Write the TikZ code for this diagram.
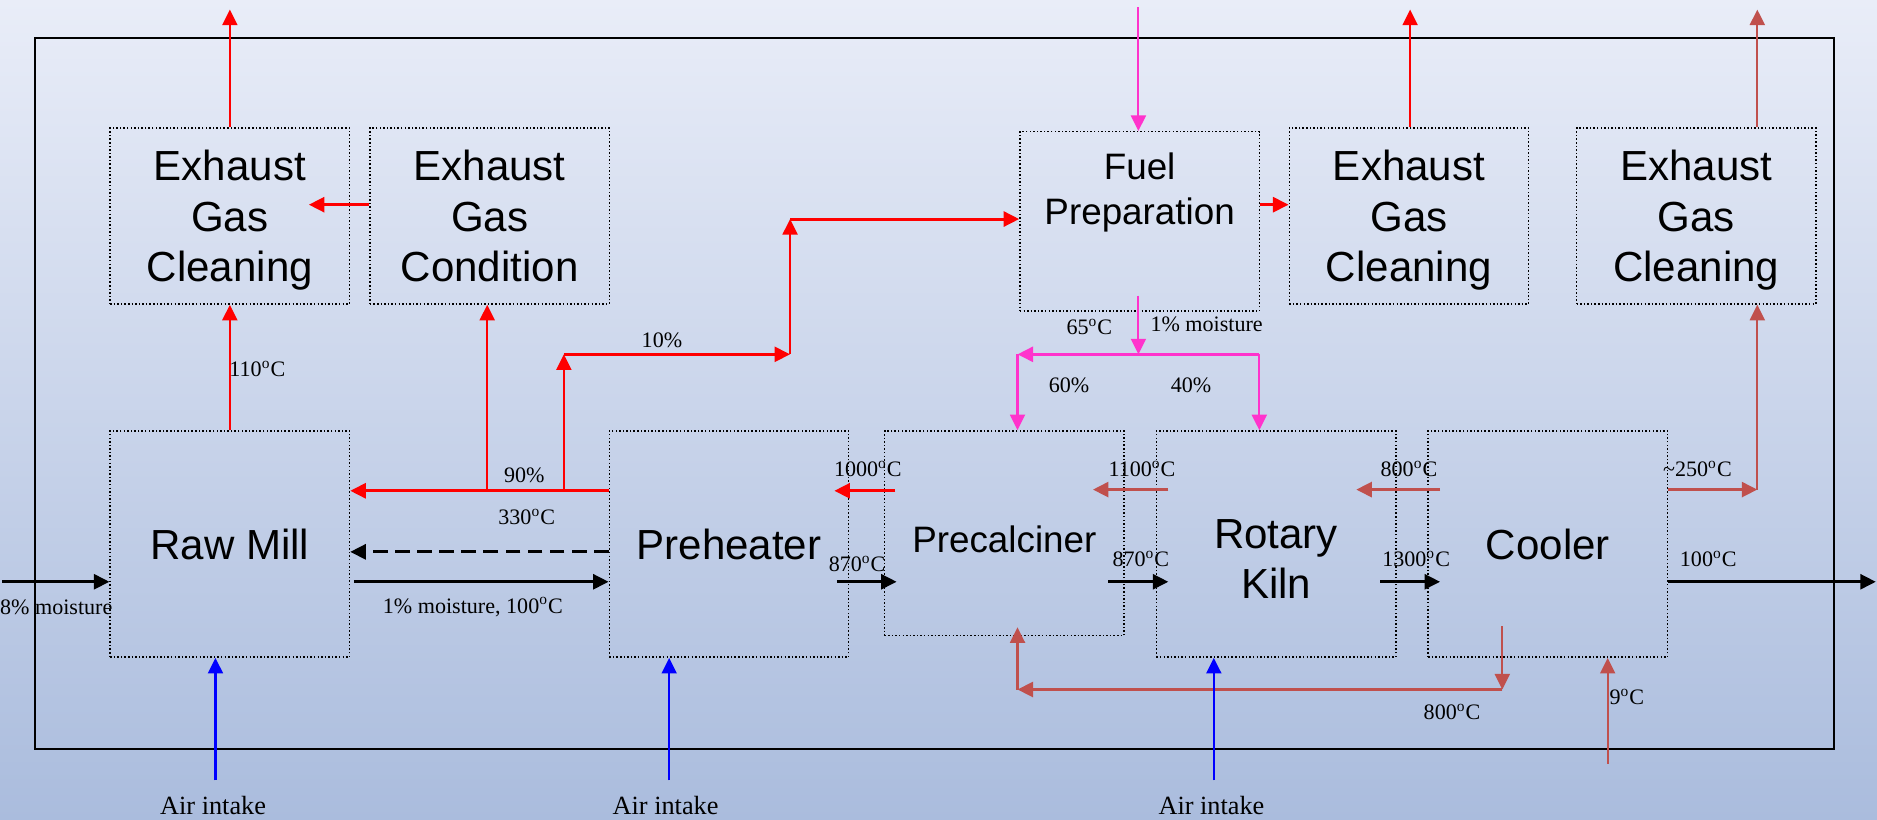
\documentclass[tikz,border=0pt]{standalone}
\usepackage{fontspec}
\setmainfont{Liberation Serif}
\newfontfamily\boxfont{Liberation Sans}
\usetikzlibrary{positioning, arrows.meta, calc}
\definecolor{gasRed}{RGB}{255, 0, 0}
\definecolor{hotAir}{RGB}{192, 80, 77}
\definecolor{fuelPink}{RGB}{255, 51, 204}
\definecolor{airBlue}{RGB}{0, 0, 255}
\definecolor{bgTop}{RGB}{233, 237, 248}
\definecolor{bgBot}{RGB}{170, 188, 221}
\newcommand{\dgC}{\textsuperscript{o}C}

\begin{document}
\begin{tikzpicture}[x=0.02cm, y=-0.02cm,
          unit/.style={draw, densely dotted, line width=0.7pt, minimum width=4cm,
                     minimum height=2.94cm, inner sep=0pt, align=center, text depth=0pt,
                     font=\boxfont\fontsize{20}{24}\selectfont},
          tall/.style={unit, minimum height=3.78cm},
          lbl/.style={font=\fontsize{10.5}{12}\selectfont, inner sep=1pt},
          airlbl/.style={font=\fontsize{12.5}{14}\selectfont, inner sep=1pt},
          arr/.style={-{Triangle[length=0.26cm, width=0.25cm]}, line width=1.4pt},
          rise/.style={arr, line width=1pt}]
        \shade[top color=bgTop, bottom color=bgBot] (0,0) rectangle (1568,685);
        \useasboundingbox (0,0) rectangle (1568,685);
        \draw[line width=0.9pt] (29,32) rectangle (1532,626);

        \node[unit] (egcA) at (192,180.5) {Exhaust\\Gas\\Cleaning};
        \node[unit] (cond) at (409,180.5) {Exhaust\\Gas\\Condition};
        \node[unit, minimum height=3cm] (fuel) at (952,185) {};
        \node[font=\boxfont\fontsize{17.5}{21.6}\selectfont, align=center] (fueltxt)
             at (952,161) {Fuel\\Preparation};
        \node[unit] (egcB) at (1177,180.5) {Exhaust\\Gas\\Cleaning};
        \node[unit] (egcC) at (1417,180.5) {Exhaust\\Gas\\Cleaning};

        \node[tall] (raw)  at (192,454.5)  {Raw Mill};
        \node[tall] (pre)  at (609,454.5)  {Preheater};
        \node[unit, minimum height=3.42cm, font=\boxfont\fontsize{17.5}{21}\selectfont]
             (calc) at (839,445.5) {\raisebox{-0.2cm}{Precalciner}};
        \node[tall] (kiln) at (1066,454.5) {};
        \node[font=\boxfont\fontsize{20}{24}\selectfont, align=center] (kilntxt)
             at (1066,467) {Rotary\\Kiln};
        \node[tall] (cool) at (1293,454.5) {Cooler};

        \coordinate (outA) at (192,8);
        \coordinate (outB) at (1178,8);
        \coordinate (ventC) at (1468,409);
        \coordinate (outC) at (1468,8);
        \coordinate (condIn) at (258,171);
        \coordinate (s90) at (407,410);
        \coordinate (s10) at (471,410);
        \coordinate (k1) at (471,296);
        \coordinate (k2) at (660,296);
        \coordinate (k3) at (660,183);
        \coordinate (fgo) at (1052,171);
        \coordinate (coalIn) at (951,6);
        \coordinate (fuelOut) at (951,247);
        \coordinate (fsplit) at (951,296);
        \coordinate (fL) at (850,296);
        \coordinate (fR) at (1052,296);
        \coordinate (retA) at (1255,523);
        \coordinate (retB) at (1255,576);
        \coordinate (retC) at (850,576);
        \coordinate (retD) at (850,524);
        \coordinate (feedIn) at (2,486);
        \coordinate (clkOut) at (1567,486);
        \coordinate (cairIn) at (1343,638);
        \coordinate (airA) at (180,652);
        \coordinate (airB) at (559,652);
        \coordinate (airC) at (1014,652);

        \draw[rise, gasRed] (egcA.north) -- (outA);
        \draw[arr, gasRed] (cond.west |- condIn) -- (condIn);
        \draw[rise, gasRed] (raw.north) -- (egcA.south);
        \draw[arr, gasRed] (pre.west |- s90) -- (raw.east |- s90);
        \draw[rise, gasRed] (s90) -- (s90 |- cond.south);
        \draw[rise, gasRed] (s10) -- (k1);
        \draw[arr, gasRed] (k1) -- (k2);
        \draw[rise, gasRed] (k2) -- (k3);
        \draw[arr, gasRed] (k3) -- (k3 -| fuel.west);
        \draw[arr, gasRed] (fuel.east |- fgo) -- (fgo -| egcB.west);
        \draw[rise, gasRed] (egcB.north -| outB) -- (outB);
        \draw[arr, gasRed] (748,410) -- (697,410);

        \draw[arr, hotAir] (976,409) -- (913,409);
        \draw[arr, hotAir] (1203,409) -- (1133,409);
        \draw[arr, hotAir] (cool.east |- ventC) -- (ventC);
        \draw[rise, hotAir] (ventC) -- (ventC |- egcC.south);
        \draw[rise, hotAir] (egcC.north -| outC) -- (outC);
        \draw[rise, hotAir] (retA) -- (retB);
        \draw[arr, hotAir] (retB) -- (retC);
        \draw[rise, hotAir] (retC) -- (retD);
        \draw[rise, hotAir] (cairIn) -- (cairIn |- cool.south);

        \draw[rise, fuelPink] (coalIn) -- (coalIn |- fuel.north);
        \draw[rise, fuelPink] (fuelOut) -- (fsplit);
        \draw[arr, fuelPink, {Triangle[length=0.26cm, width=0.25cm]}-] (fL) -- (fR);
        \draw[rise, fuelPink] (fL) -- (fL |- calc.north);
        \draw[rise, fuelPink] (fR) -- (fR |- kiln.north);

        \draw[arr] (feedIn) -- (feedIn -| raw.west);
        \draw[arr] ([xshift=0.06cm]raw.east |- feedIn) -- (pre.west |- feedIn);
        \draw[arr, dash pattern=on 7pt off 3.5pt] (pre.west |- 0,461) -- (raw.east |- 0,461);
        \draw[arr] (699,486) -- (749,486);
        \draw[arr] (926,486) -- (976,486);
        \draw[arr] (1153,486) -- (1203,486);
        \draw[arr] (cool.east |- clkOut) -- (clkOut);

        \draw[rise, airBlue] (airA) -- (airA |- raw.south);
        \draw[rise, airBlue] (airB) -- (airB |- pre.south);
        \draw[rise, airBlue] (airC) -- (airC |- kiln.south);

        \node[lbl] (t110) at (215,308) {110\dgC};
        \node[lbl] (t10) at (553,284) {10\%};
        \node[lbl] (t90) at (438,397) {90\%};
        \node[lbl] (t330) at (440,432) {330\dgC};
        \node[lbl] (t1000) at (725,392) {1000\dgC};
        \node[lbl] (t870a) at (716,471) {870\dgC};
        \node[lbl] (tmix) at (395,507) {1\% moisture, 100\dgC};
        \node[lbl] (tfeed) at (47,507) {8\% moisture};
        \node[lbl] (t65) at (910,273) {65\dgC};
        \node[lbl] (tfm) at (1008,271) {1\% moisture};
        \node[lbl] (t60) at (893,322) {60\%};
        \node[lbl] (t40) at (995,322) {40\%};
        \node[lbl] (t1100) at (954,392) {1100\dgC};
        \node[lbl] (t870b) at (953,467) {870\dgC};
        \node[lbl] (t800a) at (1177,392) {800\dgC};
        \node[lbl] (t1300) at (1183,467) {1300\dgC};
        \node[lbl] (t250) at (1418,392) {\textasciitilde250\dgC};
        \node[lbl] (t100) at (1427,467) {100\dgC};
        \node[lbl] (t800b) at (1213,595) {800\dgC};
        \node[lbl] (t9) at (1359,582) {9\dgC};
        \node[airlbl] (airtA) at (178,673) {Air intake};
        \node[airlbl] (airtB) at (556,673) {Air intake};
        \node[airlbl] (airtC) at (1012,673) {Air intake};
      \end{tikzpicture}
\end{document}
